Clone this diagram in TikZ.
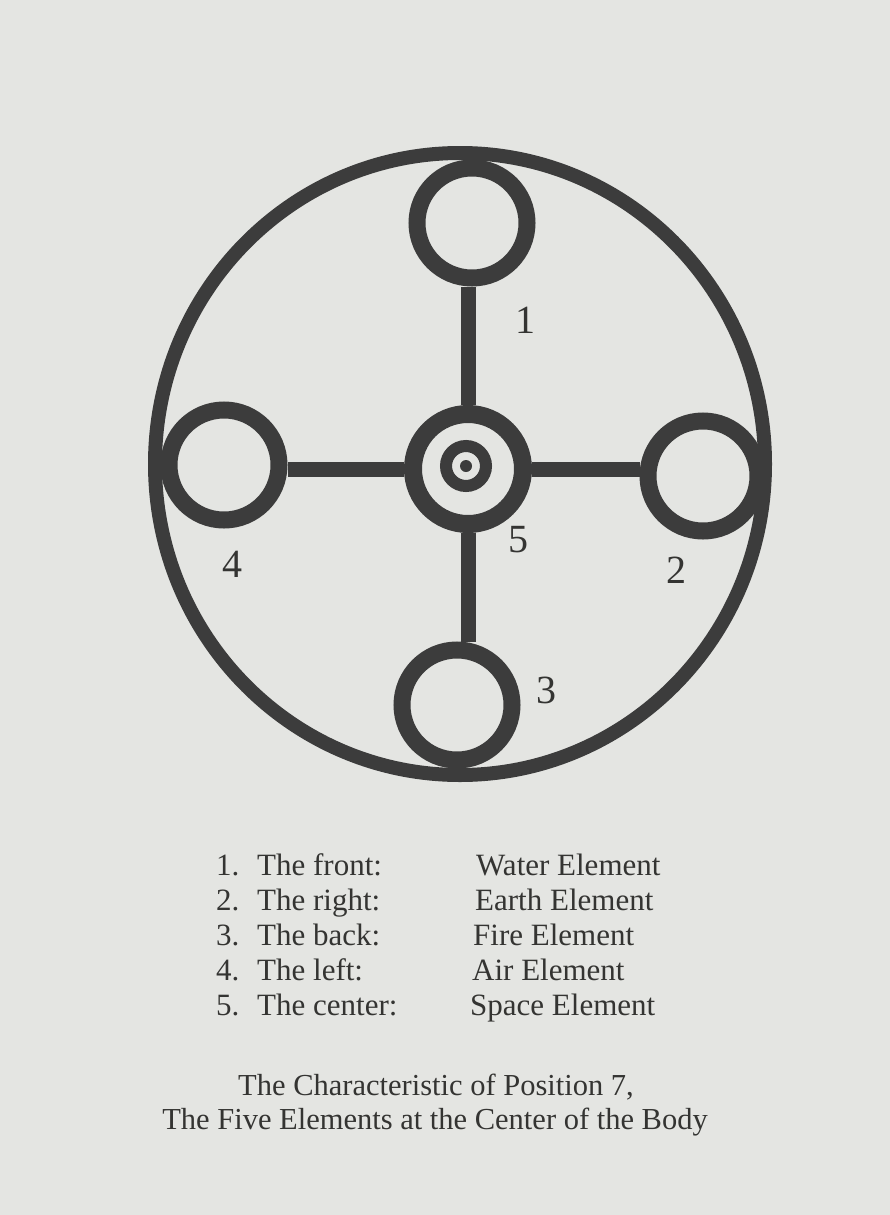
\documentclass[tikz,border=0pt]{standalone}
\usepackage{fontspec}
\setmainfont{Liberation Serif}
\usepackage{xcolor}
\usepackage{tikz}
\usetikzlibrary{shapes.geometric, positioning}
\definecolor{paper}{RGB}{228,229,226}
\definecolor{ink}{RGB}{60,60,60}
\definecolor{print}{RGB}{52,52,50}
\tikzstyle{rim} = [ellipse, draw=ink, line width=14pt, inner sep=0pt, minimum width=610pt, minimum height=622pt]
\tikzstyle{element} = [circle, draw=ink, line width=17pt, inner sep=0pt, minimum size=110pt]
\tikzstyle{hubring} = [circle, draw=ink, line width=18pt, inner sep=0pt, minimum size=110pt]
\tikzstyle{spoke} = [draw=ink, line width=15pt]
\tikzstyle{numlabel} = [font=\fontsize{40}{44}\selectfont, text=print, inner sep=0pt]
\tikzstyle{listtext} = [font=\fontsize{31}{35}\selectfont, text=print, inner sep=0pt, anchor=base west]
\tikzstyle{caption} = [font=\fontsize{30.5}{34}\selectfont, text=print, inner sep=0pt, anchor=base]

\begin{document}
\begin{tikzpicture}[x=1pt, y=-1pt]
    % background sheet
    \fill[paper] (0,0) rectangle (890,1215);
    \useasboundingbox (0,0) rectangle (890,1215);

    % === DIAGRAM ===

    % outer rim
    \node (rim) [rim] at (460,464) {};

    % four element circles
    \node (front) [element] at (472,223) {};
    \node (right) [element] at (703,476) {};
    \node (back) [element] at (457,705) {};
    \node (left) [element] at (224,465) {};

    % center: ring, inner ring, dot
    \node (hub) [hubring] at (468,469) {};
    \node (core) [circle, draw=ink, line width=12pt, inner sep=0pt, minimum size=40pt] at (466,466) {};
    \node (dot) [circle, fill=ink, inner sep=0pt, minimum size=12pt] at (466,466) {};

    % spokes
    \draw [spoke] (hub.north) -- (hub.north |- front.south);
    \draw [spoke] (hub.east) -- (hub.east -| right.west);
    \draw [spoke] (hub.south) -- (hub.south |- back.north);
    \draw [spoke] (hub.west) -- (hub.west -| left.east);

    % position numbers
    \node (lab1) [numlabel] at (525,320) {1};
    \node (lab2) [numlabel] at (676,570) {2};
    \node (lab3) [numlabel] at (546,690) {3};
    \node (lab4) [numlabel] at (232,564) {4};
    \node (lab5) [numlabel] at (518,540) {5};

    % === LEGEND ===
    \node (n1) [listtext] at (216,875) {1.};
    \node (p1) [listtext] at (257,875) {The front:};
    \node (e1) [listtext] at (476,875) {Water Element};
    \node (n2) [listtext] at (216,910) {2.};
    \node (p2) [listtext] at (257,910) {The right:};
    \node (e2) [listtext] at (475,910) {Earth Element};
    \node (n3) [listtext] at (216,945) {3.};
    \node (p3) [listtext] at (257,945) {The back:};
    \node (e3) [listtext] at (473,945) {Fire Element};
    \node (n4) [listtext] at (216,980) {4.};
    \node (p4) [listtext] at (257,980) {The left:};
    \node (e4) [listtext] at (472,980) {Air Element};
    \node (n5) [listtext] at (216,1015) {5.};
    \node (p5) [listtext] at (257,1015) {The center:};
    \node (e5) [listtext] at (470,1015) {Space Element};

    % === CAPTION ===
    \node (cap1) [caption] at (436,1095) {The Characteristic of Position 7,};
    \node (cap2) [caption] at (435,1129) {The Five Elements at the Center of the Body};

\end{tikzpicture}
\end{document}
